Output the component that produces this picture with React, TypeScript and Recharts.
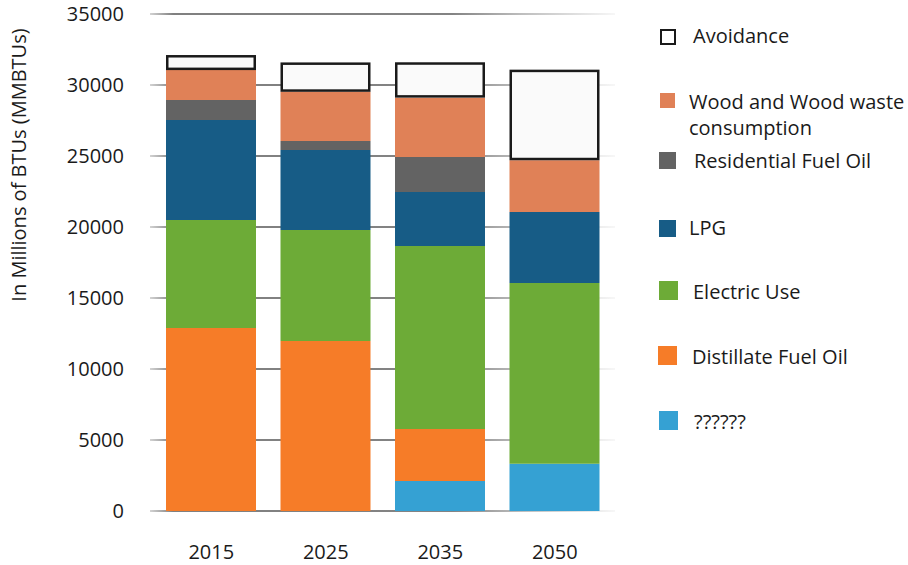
import React from 'react';
import { BarChart, Bar, XAxis, YAxis, CartesianGrid } from 'recharts';

const categories = ['2015', '2025', '2035', '2050'];
const unknownVals = [0, 0, 2110, 3330];
const distillateVals = [12890, 11970, 3660, 0];
const electricVals = [7600, 7820, 12890, 12730];
const lpgVals = [7040, 5630, 3800, 5000];
const residentialVals = [1410, 630, 2470, 0];
const woodVals = [2110, 3470, 4180, 3640];
const avoidanceVals = [1060, 2070, 2490, 6380];
const yTicks = [0, 5000, 10000, 15000, 20000, 25000, 30000, 35000];
const yAxisTitle = 'In Millions of BTUs (MMBTUs)';

const series = [
  { key: 'unknown', name: '??????', color: '#35a1d3', values: unknownVals },
  { key: 'distillate', name: 'Distillate Fuel Oil', color: '#f67c28', values: distillateVals },
  { key: 'electric', name: 'Electric Use', color: '#6dab37', values: electricVals },
  { key: 'lpg', name: 'LPG', color: '#175c86', values: lpgVals },
  { key: 'residential', name: 'Residential Fuel Oil', color: '#636363', values: residentialVals },
  { key: 'wood', name: 'Wood and Wood waste consumption', color: '#e08157', values: woodVals },
  { key: 'avoidance', name: 'Avoidance', color: '#fafafa', values: avoidanceVals },
];

const data = categories.map((year, i) => {
  const row: Record<string, number | string> = { year };
  series.forEach((s) => {
    row[s.key] = s.values[i];
  });
  return row;
});

// legend layout (top -> bottom), separate from data
const legendLayout: Record<string, { top: number; size: number; sqLeft: number; textLeft: number; textTop: number; lineH: number }> = {
  avoidance: { top: 29, size: 16, sqLeft: 660, textLeft: 693, textTop: 36, lineH: 26 },
  wood: { top: 93, size: 15, sqLeft: 660, textLeft: 689, textTop: 102, lineH: 26 },
  residential: { top: 152, size: 17, sqLeft: 659, textLeft: 694, textTop: 161, lineH: 26 },
  lpg: { top: 220, size: 17, sqLeft: 659, textLeft: 689, textTop: 228, lineH: 26 },
  electric: { top: 281, size: 19, sqLeft: 659, textLeft: 693, textTop: 292, lineH: 26 },
  distillate: { top: 346, size: 19, sqLeft: 658, textLeft: 692, textTop: 357, lineH: 26 },
  unknown: { top: 411, size: 19, sqLeft: 659, textLeft: 694, textTop: 422, lineH: 26 },
};

const FONT = '"Open Sans", sans-serif';
const TEXT = '#1a1a1a';

const AvoidanceShape = (props: any) => {
  const { x, y, width, height } = props;
  if (!height || height <= 0) return null;
  return (
    <rect
      x={x + 1.25}
      y={y + 1.25}
      width={width - 2.5}
      height={height - 2.5}
      fill="#fafafa"
      stroke="#1a1a1a"
      strokeWidth={2.5}
    />
  );
};

const Legend = () => (
  <div style={{ position: 'absolute', left: 0, top: 0, width: 908, height: 565, pointerEvents: 'none' }}>
    {[...series].reverse().map((s) => {
      const L = legendLayout[s.key];
      const isBox = s.key === 'avoidance';
      const words = s.key === 'wood' ? ['Wood and Wood waste', 'consumption'] : [s.name];
      return (
        <React.Fragment key={s.key}>
          <div
            style={{
              position: 'absolute',
              left: L.sqLeft,
              top: L.top,
              width: L.size,
              height: L.size,
              boxSizing: 'border-box',
              background: isBox ? '#ffffff' : s.color,
              border: isBox ? '2px solid #1a1a1a' : 'none',
            }}
          />
          {words.map((w, j) => (
            <div
              key={j}
              style={{
                position: 'absolute',
                left: L.textLeft,
                top: L.textTop - L.lineH / 2 + j * L.lineH,
                height: L.lineH,
                lineHeight: `${L.lineH}px`,
                fontFamily: FONT,
                fontSize: 20,
                color: TEXT,
                whiteSpace: 'nowrap',
              }}
            >
              {w}
            </div>
          ))}
        </React.Fragment>
      );
    })}
  </div>
);

const YTitle = () => (
  <text
    transform="translate(18,165) rotate(-90)"
    textAnchor="middle"
    dominantBaseline="central"
    fontFamily={FONT}
    fontSize={20}
    fill={TEXT}
  >
    {yAxisTitle}
  </text>
);

export default function App() {
  return (
    <div style={{ position: 'absolute', left: 0, top: 0, width: 908, height: 565, background: '#fff' }}>
      <BarChart
        width={908}
        height={565}
        data={data}
        margin={{ top: 14, right: 293, bottom: 0, left: 0 }}
        barSize={90}
      >
        <defs>
          <linearGradient id="gridGrad" gradientUnits="userSpaceOnUse" x1={150} y1={0} x2={615} y2={0}>
            <stop offset="0" stopColor="#c4c4c4" />
            <stop offset="0.05" stopColor="#555555" />
            <stop offset="0.65" stopColor="#5a5a5a" />
            <stop offset="0.8" stopColor="#a8a8a8" />
            <stop offset="1" stopColor="#f4f4f4" />
          </linearGradient>
        </defs>
        <CartesianGrid vertical={false} stroke="url(#gridGrad)" strokeWidth={1.5} />
        <XAxis
          dataKey="year"
          axisLine={false}
          tickLine={false}
          height={54}
          tickMargin={28}
          padding={{ left: 4, right: 3 }}
          tick={{ fontFamily: FONT, fontSize: 20, fill: TEXT }}
        />
        <YAxis
          width={150}
          domain={[0, 35000]}
          ticks={yTicks}
          interval={0}
          axisLine={false}
          tickLine={false}
          tickMargin={20}
          tick={{ fontFamily: FONT, fontSize: 20, fill: TEXT }}
          label={<YTitle />}
        />
        {series.map((s) =>
          s.key === 'avoidance' ? (
            <Bar
              key={s.key}
              dataKey={s.key}
              name={s.name}
              stackId="a"
              fill={s.color}
              isAnimationActive={false}
              shape={<AvoidanceShape />}
            />
          ) : (
            <Bar key={s.key} dataKey={s.key} name={s.name} stackId="a" fill={s.color} isAnimationActive={false} />
          )
        )}
      </BarChart>
      <Legend />
    </div>
  );
}
